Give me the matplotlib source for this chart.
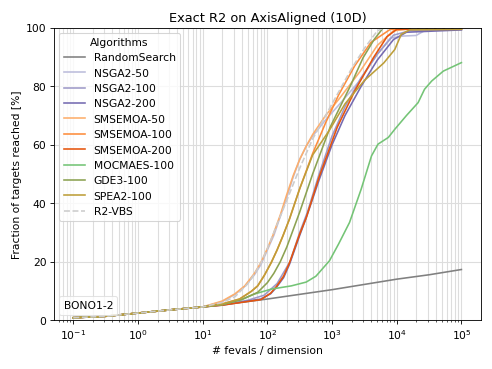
import numpy as np
import matplotlib.pyplot as plt
from matplotlib.offsetbox import AnchoredText

# values: log10(# fevals / dimension) -> % of targets reached
start_lx = [-1.0, -0.5, 0.0, 0.5, 1.0]
start_y = [0.8, 1.3, 2.4, 3.5, 4.5]

rs_lx = [1.5, 2.0, 2.5, 3.0, 3.5, 4.0, 4.5, 5.0]
rs_y = [5.8, 7.2, 8.8, 10.4, 12.2, 14.0, 15.5, 17.3]

nsga50_lx = [1.3, 1.5, 1.65, 1.8, 1.9, 2.0, 2.1, 2.2, 2.3, 2.4, 2.5, 2.6, 2.7, 2.9, 3.12, 3.43, 3.7, 3.9, 4.1, 4.3, 4.45, 5.0]
nsga50_y = [6.3, 8.8, 11.5, 15.5, 19, 24, 29, 35.5, 42, 49, 55, 59.5, 63, 68.5, 74, 82, 91, 96.5, 97.2, 97.4, 99.3, 99.5]

nsga100_lx = [1.3, 1.7, 1.95, 2.15, 2.35, 2.5, 2.62, 2.8, 3.0, 3.2, 3.45, 3.7, 3.95, 4.2, 5.0]
nsga100_y = [5.2, 6.8, 8.5, 12.5, 20, 30, 37, 50, 63, 73, 83, 91, 97.5, 99, 99.5]

nsga200_lx = [1.3, 1.9, 2.05, 2.14, 2.25, 2.34, 2.5, 2.6, 2.8, 3.0, 3.2, 3.45, 3.7, 3.95, 4.15, 5.0]
nsga200_y = [5.1, 7.2, 9.0, 11.2, 14.5, 19, 29, 35, 48, 60, 70, 80, 89, 96, 98.5, 99.3]

sms50_lx = [1.3, 1.5, 1.65, 1.8, 1.9, 2.0, 2.085, 2.2, 2.3, 2.4, 2.5, 2.6, 2.7, 2.9, 3.12, 3.43, 3.7, 3.95, 4.2, 5.0]
sms50_y = [6.5, 9.0, 11.7, 16, 19.7, 24.5, 29, 36, 43, 49.5, 55, 59.5, 63.5, 70, 76, 85, 94, 99, 99.6, 99.7]

sms100_lx = [1.3, 1.57, 1.75, 1.85, 1.95, 2.06, 2.15, 2.24, 2.34, 2.5, 2.7, 2.9, 3.1, 3.35, 3.6, 3.9, 5.0]
sms100_y = [5.5, 7.2, 9.8, 11.7, 15.2, 19.7, 24, 28.8, 34.5, 45, 57, 67.5, 77, 87, 95, 99.5, 99.7]

sms200_lx = [1.3, 1.9, 2.05, 2.14, 2.25, 2.34, 2.5, 2.6, 2.8, 3.08, 3.35, 3.64, 3.85, 4.0, 5.0]
sms200_y = [5.1, 7.0, 9.2, 11.5, 15, 19.5, 29.5, 35, 49, 66, 78.4, 89.8, 97, 99.5, 99.8]

moc_lx = [1.3, 1.6, 1.8, 2.06, 2.37, 2.6, 2.75, 2.96, 3.1, 3.27, 3.45, 3.61, 3.71, 3.87,
          3.97, 4.15, 4.33, 4.43, 4.54, 4.72, 5.0]
moc_y = [5.3, 7.0, 8.9, 10.6, 11.7, 13.0, 15, 20.3, 26, 33.4, 44.8, 56.2, 60.2, 62.5,
         65.3, 70, 74.4, 79, 81.8, 85.2, 88.1]

gde_lx = [1.3, 1.6, 1.85, 2.0, 2.1, 2.2, 2.3, 2.5, 2.7, 2.97, 3.28, 3.48, 3.65, 3.79, 5.0]
gde_y = [5.3, 7.0, 9.5, 12.8, 16, 20, 25, 37, 50, 66, 80, 89.8, 96, 100, 100]

spea_lx = [1.3, 1.57, 1.75, 1.85, 1.95, 2.06, 2.15, 2.24, 2.34, 2.5, 2.7, 2.96, 3.2, 3.5, 3.8, 3.97, 4.07, 4.2, 5.0]
spea_y = [5.5, 7.2, 9.8, 11.7, 15.2, 19.7, 24, 28.8, 34.5, 45, 56.5, 65, 74, 82, 88, 92.6, 97.8, 99.3, 99.5]

vbs_lx = [1.3, 1.5, 1.7, 1.8, 1.9, 2.0, 2.1, 2.3, 2.5, 2.7, 2.9, 3.1, 3.3, 3.5, 3.7, 3.8, 5.0]
vbs_y = [6.0, 8.0, 12.5, 15.8, 19.5, 24.5, 30, 41, 52, 62, 70, 78, 86, 93, 99, 100, 100]

algos = [
    ("RandomSearch", rs_lx, rs_y, "#808080", "-"),
    ("NSGA2-50", nsga50_lx, nsga50_y, "#bcbddc", "-"),
    ("NSGA2-100", nsga100_lx, nsga100_y, "#9e9ac8", "-"),
    ("NSGA2-200", nsga200_lx, nsga200_y, "#756bb1", "-"),
    ("SMSEMOA-50", sms50_lx, sms50_y, "#fdae6b", "-"),
    ("SMSEMOA-100", sms100_lx, sms100_y, "#fd8d3c", "-"),
    ("SMSEMOA-200", sms200_lx, sms200_y, "#e6550d", "-"),
    ("MOCMAES-100", moc_lx, moc_y, "#74c476", "-"),
    ("GDE3-100", gde_lx, gde_y, "#8ca252", "-"),
    ("SPEA2-100", spea_lx, spea_y, "#bd9e39", "-"),
    ("R2-VBS", vbs_lx, vbs_y, "#cccccc", "--"),
]

fig, ax = plt.subplots(figsize=(6.4, 4.8), dpi=77)
fig.subplots_adjust(left=0.1095, right=0.9757, top=0.923, bottom=0.1324)

for name, lx, y, col, ls in algos:
    xs = 10 ** np.array(start_lx + lx)
    ys = start_y + y
    ax.plot(xs, ys, color=col, ls=ls, lw=1.5, label=name)

ax.set_xscale("log")
ax.set_xticks([10.0 ** k for k in range(-1, 6)])
ax.set_ylim(0, 100)
ax.grid(True, which="both", color="#dddddd", lw=1)
ax.set_axisbelow(True)
ax.set_xlabel("# fevals / dimension")
ax.set_ylabel("Fraction of targets reached [%]")
ax.set_title("Exact R2 on AxisAligned (10D)")
ax.legend(title="Algorithms", loc="upper left")

at = AnchoredText("BONO1-2", loc="lower left", prop=dict(size=10), pad=0.4, borderpad=0.5)
at.patch.set_boxstyle("round,pad=0.,rounding_size=0.2")
at.patch.set_edgecolor("#dddddd")
at.patch.set_alpha(0.8)
ax.add_artist(at)

fig.savefig("out.png", dpi=77)
